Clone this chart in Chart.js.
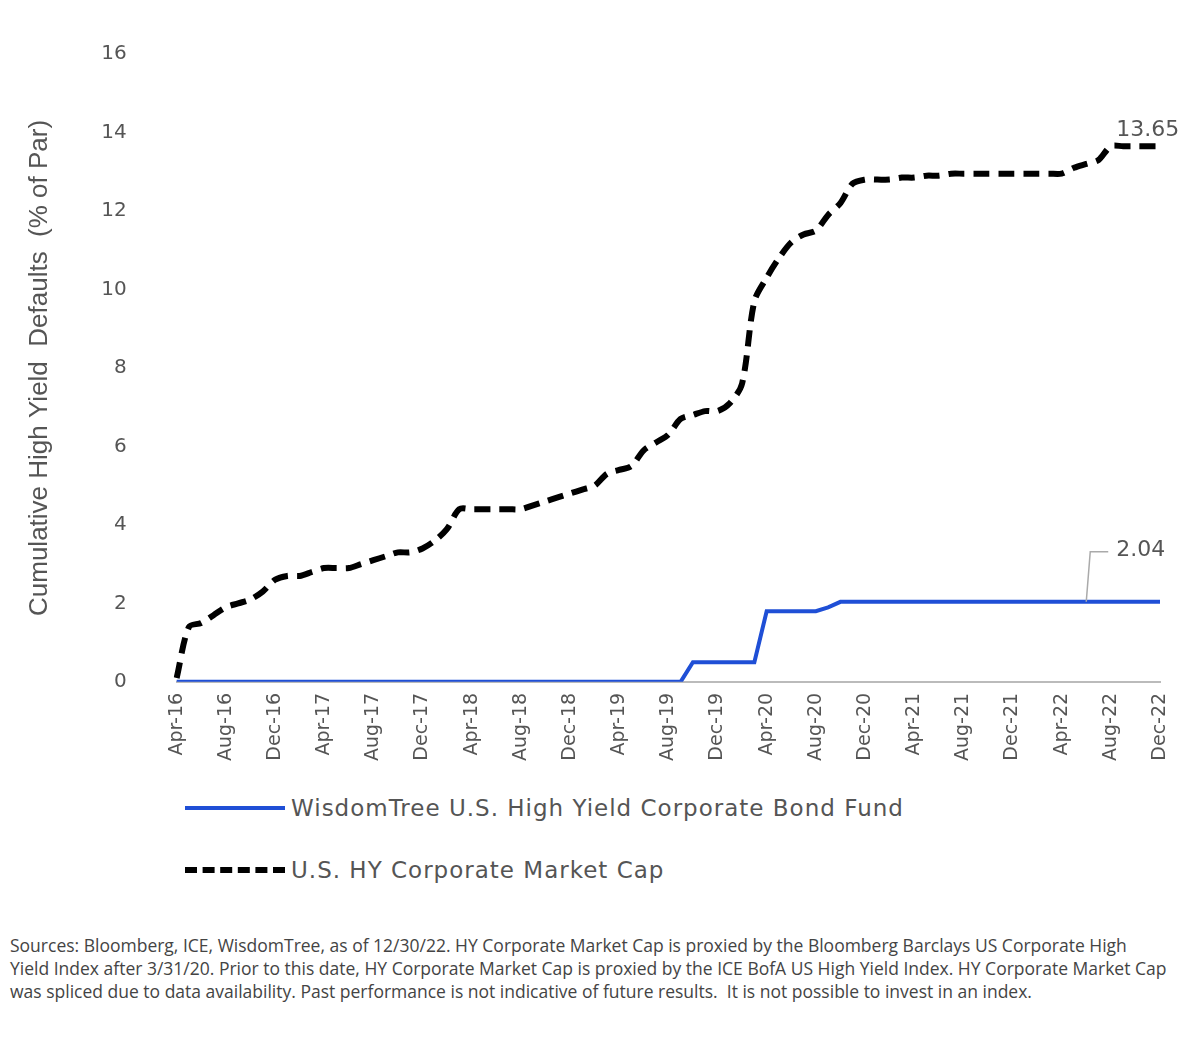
<!DOCTYPE html>
<html>
<head>
<meta charset="utf-8">
<script src="https://cdn.jsdelivr.net/npm/chart.js@4"></script>
<style>
  body { margin: 0; background: #fff; width: 1200px; height: 1038px; position: relative; overflow: hidden; }
  #wrap { position: absolute; left: 0; top: 0; width: 1200px; height: 768px; }
  .leg { position: absolute; left: 185px; font-family: "DejaVu Sans", sans-serif; font-size: 23px; letter-spacing: 1px; color: #555; display: flex; align-items: center; }
  .leg span.sw { display: inline-block; width: 100px; margin-right: 6px; }
  #src { position: absolute; left: 10px; top: 934px; width: 1160px; font-family: "Open Sans", sans-serif; font-size: 17.5px; line-height: 23px; color: #444; }
</style>
</head>
<body>
<div id="wrap"><canvas id="c"></canvas></div>
<div class="leg" style="top:795px"><span class="sw" style="border-top:4px solid #1f4fd6"></span>WisdomTree U.S. High Yield Corporate Bond Fund</div>
<div class="leg" style="top:857px"><span class="sw" style="border-top:6px dashed #000"></span>U.S. HY Corporate Market Cap</div>
<div id="src">Sources: Bloomberg, ICE, WisdomTree, as of 12/30/22. HY Corporate Market Cap is proxied by the Bloomberg Barclays US Corporate High Yield Index after 3/31/20. Prior to this date, HY Corporate Market Cap is proxied by the ICE BofA US High Yield Index. HY Corporate Market Cap was spliced due to data availability. Past performance is not indicative of future results.&nbsp; It is not possible to invest in an index.</div>
<script>
const monthNames = ['Jan','Feb','Mar','Apr','May','Jun','Jul','Aug','Sep','Oct','Nov','Dec'];
// months Apr-16 .. Dec-22
const months = [];
for (let y = 2016, m = 3; y < 2023; ) {
    months.push(monthNames[m] + '-' + String(y).slice(2));
    if (y === 2022 && m === 11) break;
    m++; if (m > 11) { m = 0; y++; }
}

const hyMarket = [
    0.1, 1.4, 1.5, 1.7, 1.9, 2.0, 2.1, 2.3, 2.6, 2.7, 2.7, 2.8,
    2.9, 2.9, 2.9, 3.0, 3.1, 3.2, 3.3, 3.3, 3.4, 3.6, 3.9, 4.4,
    4.4, 4.4, 4.4, 4.4, 4.4, 4.5, 4.6, 4.7, 4.8, 4.9, 5.0, 5.3,
    5.4, 5.5, 5.9, 6.1, 6.3, 6.7, 6.8, 6.9, 6.9, 7.1, 7.6, 9.7,
    10.3, 10.8, 11.2, 11.4, 11.5, 11.9, 12.2, 12.7, 12.8, 12.8, 12.8, 12.85,
    12.85, 12.9, 12.9, 12.95, 12.95, 12.95, 12.95, 12.95, 12.95, 12.95, 12.95, 12.95,
    12.95, 13.1, 13.2, 13.3, 13.65, 13.65, 13.65, 13.65, 13.65
];
const wtFund = [
    0, 0, 0, 0, 0, 0, 0, 0, 0, 0, 0, 0,
    0, 0, 0, 0, 0, 0, 0, 0, 0, 0, 0, 0,
    0, 0, 0, 0, 0, 0, 0, 0, 0, 0, 0, 0,
    0, 0, 0, 0, 0, 0, 0.5, 0.5, 0.5, 0.5, 0.5, 0.5,
    1.8, 1.8, 1.8, 1.8, 1.8, 1.9, 2.04, 2.04, 2.04, 2.04, 2.04, 2.04,
    2.04, 2.04, 2.04, 2.04, 2.04, 2.04, 2.04, 2.04, 2.04, 2.04, 2.04, 2.04,
    2.04, 2.04, 2.04, 2.04, 2.04, 2.04, 2.04, 2.04, 2.04
];
const yTicks = [0, 2, 4, 6, 8, 10, 12, 14, 16];

// end-value labels
const endLabels = {
    id: 'endLabels',
    afterDatasetsDraw(chart) {
        const { ctx, scales: { x, y } } = chart;
        ctx.save();
        ctx.font = '22px "DejaVu Sans", sans-serif';
        ctx.fillStyle = '#555';
        ctx.textAlign = 'center';
        const last = months.length - 1;
        ctx.fillText(hyMarket[last].toFixed(2), x.getPixelForValue(last - 1), y.getPixelForValue(hyMarket[last]) - 10);
        // leader line for fund
        const px = x.getPixelForValue(last - 6), py = y.getPixelForValue(wtFund[last]);
        ctx.strokeStyle = '#aaa';
        ctx.lineWidth = 1.5;
        ctx.beginPath();
        ctx.moveTo(px, py);
        ctx.lineTo(px + 4, py - 50);
        ctx.lineTo(px + 22, py - 50);
        ctx.stroke();
        ctx.textAlign = 'left';
        ctx.textBaseline = 'middle';
        ctx.fillText(wtFund[last].toFixed(2), px + 30, py - 52);
        ctx.restore();
    }
};

new Chart(document.getElementById('c'), {
    type: 'line',
    data: {
        labels: months,
        datasets: [
            { label: 'WisdomTree U.S. High Yield Corporate Bond Fund', data: wtFund,
              borderColor: '#1f4fd6', borderWidth: 4, pointRadius: 0, tension: 0 },
            { label: 'U.S. HY Corporate Market Cap', data: hyMarket,
              borderColor: '#000', borderWidth: 6, borderDash: [16, 9], pointRadius: 0, tension: 0.3 }
        ]
    },
    options: {
        responsive: true,
        maintainAspectRatio: false,
        animation: false,
        layout: { padding: { left: 20, right: 40, top: 2, bottom: 4 } },
        plugins: { legend: { display: false }, tooltip: { enabled: false } },
        scales: {
            x: {
                offset: false,
                grid: { display: false, drawTicks: true },
                border: { color: '#bbb', width: 2 },
                ticks: {
                    autoSkip: false, maxRotation: 90, minRotation: 90,
                    font: { family: 'DejaVu Sans', size: 19 }, color: '#555',
                    callback: (v, i) => (i % 4 === 0 ? months[i] : '')
                }
            },
            y: {
                min: 0, max: 16,
                afterBuildTicks: s => { s.ticks = yTicks.map(v => ({ value: v })); },
                grid: { display: false },
                border: { display: false },
                ticks: { font: { family: 'DejaVu Sans', size: 20 }, color: '#555', padding: 42 },
                title: { display: true, text: 'Cumulative High Yield  Defaults  (% of Par)',
                         font: { family: 'Liberation Sans', size: 26 }, color: '#555' }
            }
        }
    },
    plugins: [endLabels]
});
</script>
</body>
</html>
